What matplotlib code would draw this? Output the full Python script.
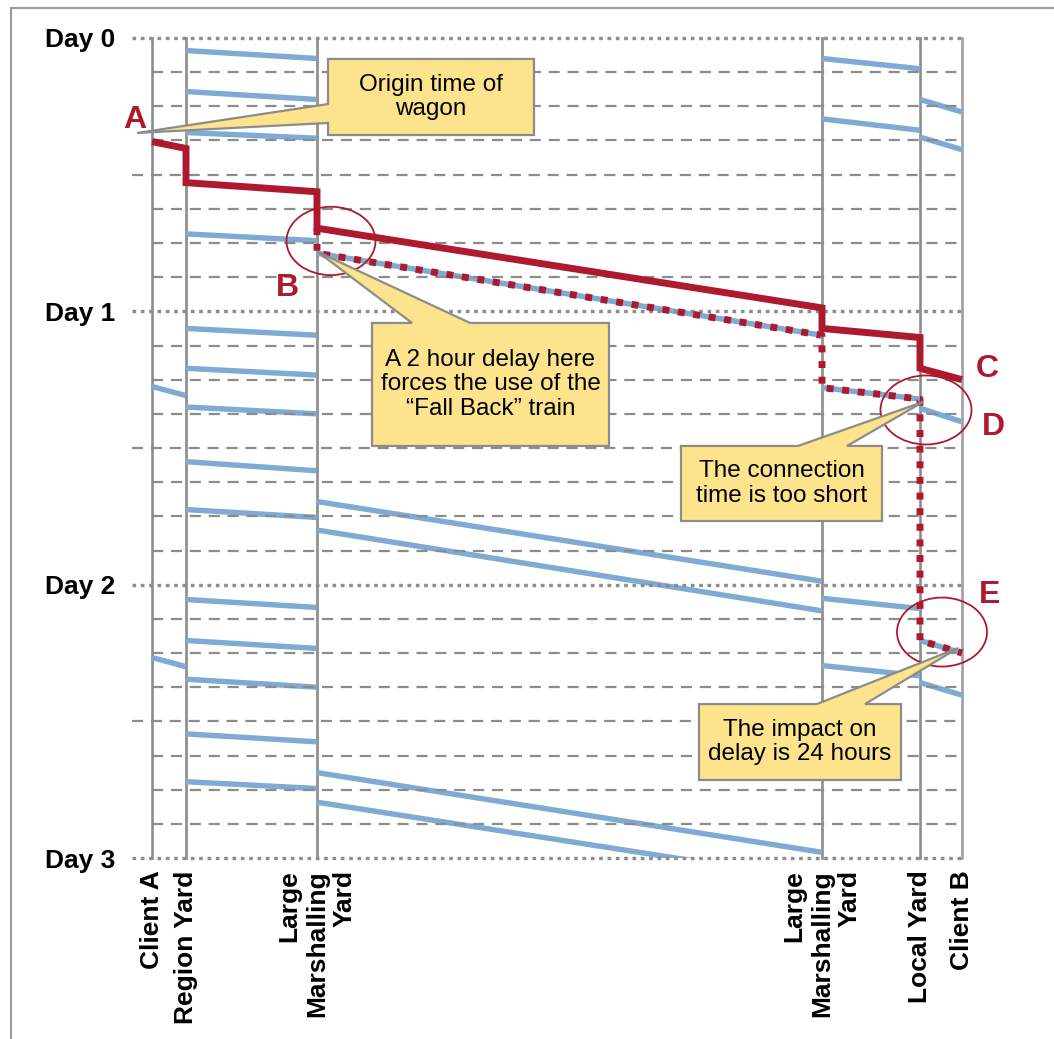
import matplotlib
matplotlib.use('Agg')
import matplotlib.pyplot as plt
from matplotlib.patches import Ellipse, Polygon, Rectangle

plt.rcParams['font.family'] = ['Liberation Sans', 'DejaVu Sans']

# stations along the route (distance units) and their labels
stations = ['Client A', 'Region Yard', 'Large\nMarshalling\nYard',
            'Large\nMarshalling\nYard', 'Local Yard', 'Client B']
station_km = [0, 34, 165, 670, 768, 810]

day_labels = ['Day 0', 'Day 1', 'Day 2', 'Day 3']
day_hours = [0, 24, 48, 72]

# scheduled trains per leg: (departure hour, arrival hour)
trains_client_region = [(9.0, 9.7), (30.6, 31.4), (54.4, 55.2)]
trains_region_lmy = [(1.1, 1.8), (4.7, 5.4), (8.3, 8.8), (12.7, 13.5), (17.2, 17.8),
                     (25.5, 26.1), (29.0, 29.6), (32.4, 33.0), (37.2, 38.0), (41.4, 42.1),
                     (49.3, 50.0), (52.9, 53.6), (56.3, 57.0), (61.1, 61.8), (65.3, 65.9)]
trains_lmy_lmy = [(16.7, 23.7), (18.9, 26.1), (40.7, 47.7), (43.2, 50.3),
                  (64.5, 71.5), (67.1, 74.0)]
trains_lmy_local = [(1.8, 2.7), (7.1, 8.1), (25.5, 26.3), (30.7, 31.7),
                    (49.2, 50.1), (55.1, 56.0)]
trains_local_client = [(5.4, 6.5), (8.7, 9.8), (29.0, 30.0), (32.5, 33.7),
                       (52.9, 54.0), (56.6, 57.7)]

legs = [(0, 1, trains_client_region), (1, 2, trains_region_lmy), (2, 3, trains_lmy_lmy),
        (3, 4, trains_lmy_local), (4, 5, trains_local_client)]

# wagon path: planned (solid) and actual after the 2 hour delay (dotted)
planned_stop = [0, 1, 1, 2, 2, 3, 3, 4, 4, 5]
planned_hour = [9.1, 9.7, 12.7, 13.5, 16.7, 23.7, 25.5, 26.3, 29.0, 30.0]
actual_stop = [2, 2, 3, 3, 4, 4, 5]
actual_hour = [16.7, 18.9, 26.1, 30.7, 31.7, 52.9, 54.0]

RED = '#AD1A2E'
BLUE = '#7EAAD4'
GRAY = '#8C8C8C'
YELLOW = '#FDE38C'

fig = plt.figure(figsize=(10.54, 10.39), dpi=100)
ax = fig.add_axes([122 / 1054, (1039 - 862) / 1039, 918 / 1054, 842 / 1039])
ax.set_xlim(-30, 888)
ax.set_ylim(72.35, -1.58)
for s in ax.spines.values():
    s.set_visible(False)

# outer frame of the slide
fig.add_artist(Rectangle((11 / 1054, -0.1), 1.2, 1.1 - 8 / 1039, transform=fig.transFigure,
                         fill=False, ec='#9A9A9A', lw=1.5, clip_on=False))

x_end = station_km[-1]
# horizontal time grid
for h in range(3, 72, 3):
    if h % 24 == 0:
        continue
    x0 = -20 if h % 24 == 12 else 0
    ax.plot([x0, x_end], [h, h], color=GRAY, lw=1.6, ls=(0, (5, 3.5)), zorder=2.5)
for h in day_hours:
    ax.plot([-20, x_end], [h, h], color=GRAY, lw=2.4, ls=(0, (1.1, 1.4)), zorder=2.5)

# station verticals
for i, x in enumerate(station_km):
    c = '#A0A0A0' if i == len(station_km) - 1 else GRAY
    ax.plot([x, x], [0, 72], color=c, lw=1.9, zorder=1)

# trains
clip = Rectangle((-30, -1.58), 918, 73.58, transform=ax.transData)
for a, b, trains in legs:
    for dep, arr in trains:
        ln, = ax.plot([station_km[a], station_km[b]], [dep, arr], color=BLUE, lw=3.9,
                      solid_capstyle='butt', zorder=2)
        ln.set_clip_path(clip)

# wagon paths
ax.plot([station_km[i] for i in actual_stop], actual_hour, color=RED, lw=5,
        ls=(0, (1.0, 1.25)), dash_capstyle='butt', zorder=3)
ax.plot([station_km[i] for i in planned_stop], planned_hour, color=RED, lw=5,
        solid_capstyle='butt', solid_joinstyle='miter', zorder=3.5)

# circles
for cx, cy, w, h in [(179, 17.82, 89, 6.0), (774, 32.66, 91, 6.06), (790, 52.16, 90, 6.06)]:
    ax.add_patch(Ellipse((cx, cy), w, h, fill=False, ec=RED, lw=1.3, zorder=4))

# letters
for txt, x, y in [('A', -17, 7.2), ('B', 135, 21.95), ('C', 835, 29.06),
                  ('D', 841, 34.16), ('E', 838, 48.9)]:
    ax.text(x, y, txt, color=RED, fontsize=23, fontweight='bold', ha='center', va='center',
            zorder=5)


def callout(text, box, base, tip, side='top'):
    x0, x1, y0, y1 = box
    if side == 'top':
        verts = [(x0, y0), (base[0], y0), tip, (base[1], y0), (x1, y0), (x1, y1), (x0, y1)]
    else:
        verts = [(x0, y0), (x1, y0), (x1, y1), (x0, y1), (x0, base[1]), tip, (x0, base[0])]
    ax.add_patch(Polygon(verts, closed=True, fc=YELLOW, ec=GRAY, lw=1.6, zorder=6,
                         joinstyle='miter'))
    ax.text((x0 + x1) / 2, (y0 + y1) / 2, text, ha='center', va='center', fontsize=17.5,
            zorder=7, linespacing=1.15)


callout('Origin time of\nwagon', (176, 382, 1.84, 8.52), (5.80, 7.46), (-15, 8.34), side='left')
callout('A 2 hour delay here\nforces the use of the\n\u201cFall Back\u201d train',
        (220, 457, 25.02, 35.82), (260, 318), (166, 18.79))
callout('The connection\ntime is too short', (529, 730, 35.82, 42.41), (646, 695), (771, 31.96))
callout('The impact on\ndelay is 24 hours', (547, 749, 58.48, 65.15), (665, 713), (806, 53.56))

ax.set_yticks(day_hours, day_labels, fontsize=19, fontweight='bold')
ax.set_xticks(station_km, stations, fontsize=19, fontweight='bold', rotation=90,
              multialignment='right')
ax.tick_params(axis='both', length=0)
ax.tick_params(axis='y', pad=5)
ax.tick_params(axis='x', pad=6)

fig.savefig('out.png', dpi=100)
